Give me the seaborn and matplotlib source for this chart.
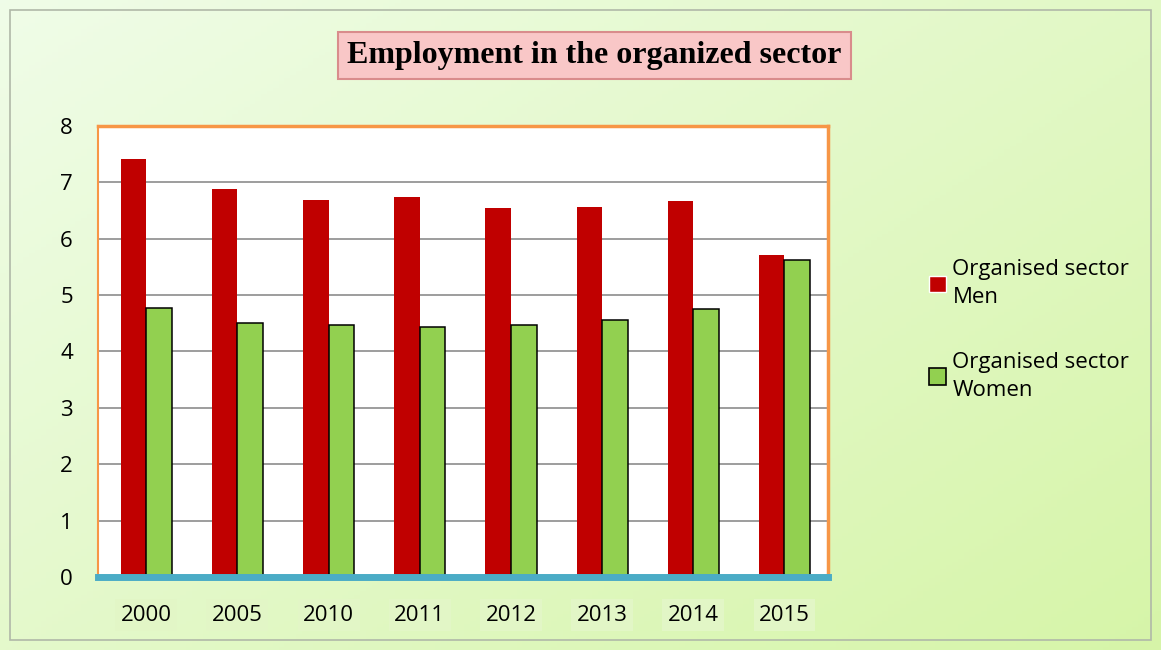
import numpy as np
import pandas as pd
import seaborn as sns
import matplotlib.pyplot as plt
from matplotlib.patches import Rectangle, Patch

years = ["2000", "2005", "2010", "2011", "2012", "2013", "2014", "2015"]
men = [7.41, 6.88, 6.68, 6.74, 6.54, 6.56, 6.67, 5.71]
women = [4.77, 4.50, 4.47, 4.43, 4.47, 4.56, 4.75, 5.62]
series = ["Organised sector\nMen", "Organised sector\nWomen"]

df = pd.DataFrame({
    "Year": years * 2,
    "Value": men + women,
    "Series": [series[0]] * len(years) + [series[1]] * len(years),
})

sns.set_style("white")
plt.rcParams['font.family'] = ['Open Sans', 'DejaVu Sans']
plt.rcParams['text.color'] = 'black'
plt.rcParams['xtick.labelcolor'] = 'black'
plt.rcParams['ytick.labelcolor'] = 'black'

fig = plt.figure(figsize=(11.61, 6.5), dpi=100)

# background gradient
bg = fig.add_axes([0, 0, 1, 1], zorder=-10)
gx, gy = np.meshgrid(np.linspace(0, 1, 200), np.linspace(0, 1, 200))
t = 0.55 * gx + 0.45 * gy
c0 = np.array([0.94, 0.99, 0.91])
c1 = np.array([0.84, 0.96, 0.66])
img = c0[None, None, :] * (1 - t[..., None]) + c1[None, None, :] * t[..., None]
bg.imshow(img, aspect='auto', extent=[0, 1, 0, 1], origin='upper')
bg.add_patch(Rectangle((0.009, 0.015), 0.982, 0.97, fill=False, ec='#b0b8a8', lw=1.2))
bg.set_xlim(0, 1)
bg.set_ylim(0, 1)
bg.axis('off')

ax = fig.add_axes([0.0844, 0.1123, 0.629, 0.694])
sns.barplot(data=df, x="Year", y="Value", hue="Series", ax=ax,
            palette=["#c00000", "#92d050"], width=0.56, saturation=1,
            legend=False)
for i, p in enumerate(ax.patches):
    if len(years) <= i < 2 * len(years):
        p.set_edgecolor('black')
        p.set_linewidth(1.1)
    else:
        p.set_edgecolor('none')

ax.set_facecolor('white')
ax.set_ylim(0, 8)
ax.set_xlim(-0.53, 7.48)
ax.set_yticks(range(0, 9))
ax.yaxis.grid(True, color='#8c8c8c', lw=1.2)
ax.set_axisbelow(True)
ax.set_xlabel('')
ax.set_ylabel('')

for s in ['top', 'right']:
    ax.spines[s].set_color('#f79646')
    ax.spines[s].set_linewidth(2.5)
ax.spines['left'].set_color('#f79646')
ax.spines['left'].set_linewidth(1.5)
ax.spines['bottom'].set_color('#4bacc6')
ax.spines['bottom'].set_linewidth(5)

ax.tick_params(axis='y', direction='out', length=6, width=1.5, color='#8064a2',
               labelsize=16, pad=12)
ax.tick_params(axis='x', length=0, labelsize=16, pad=20)
for lab in ax.get_xticklabels():
    lab.set_bbox(dict(boxstyle='square,pad=0.25', fc='#e2f6c6', ec='none'))

# title box
fig.text(0.512, 0.915, "Employment in the organized sector", ha='center', va='center',
         fontsize=23, fontweight='bold', family=['Liberation Serif', 'DejaVu Serif'],
         bbox=dict(boxstyle='square,pad=0.28', fc='#f9c7c7', ec='#d98c8c', lw=1.5))

handles = [Patch(fc="#c00000", ec='white', lw=1), Patch(fc="#92d050", ec='black', lw=1.2)]
leg = fig.legend(handles, series, loc='upper left', bbox_to_anchor=(0.783, 0.632),
                 frameon=False, fontsize=16, handlelength=0.75, handleheight=0.75,
                 handletextpad=0.3, labelspacing=1.95)
for txt in leg.get_texts():
    txt.set_linespacing(1.45)

fig.savefig("out.png", dpi=100)
